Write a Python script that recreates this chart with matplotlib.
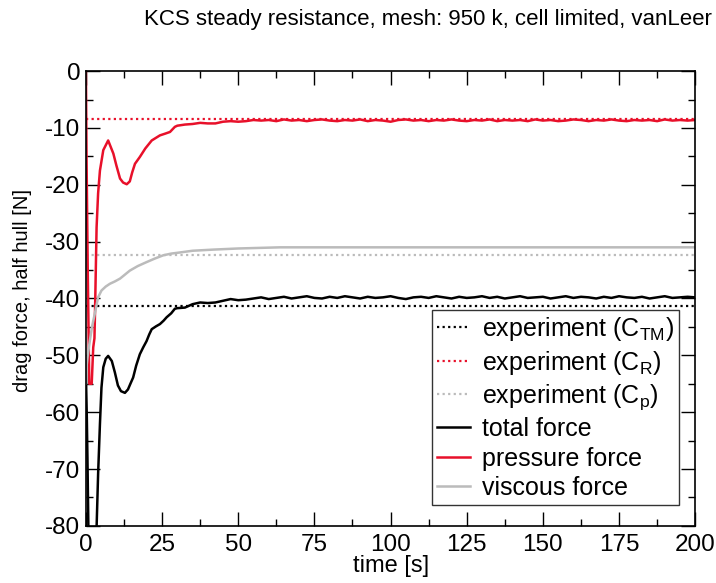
import numpy as np
import matplotlib
matplotlib.use("Agg")
import matplotlib.pyplot as plt
from matplotlib.ticker import MultipleLocator

plt.rcParams['font.family'] = ['Liberation Sans', 'DejaVu Sans']
plt.rcParams['mathtext.default'] = 'regular'
plt.rcParams['axes.unicode_minus'] = False

# experiment reference values [N]
exp_total = -41.3
exp_pressure = -8.4
exp_viscous = -32.3

# time grid for the long steady tail (30 s .. 200 s, every 2.5 s)
t_tail = list(np.arange(30.0, 200.01, 2.5))

# total force
t_total_start = [0, 0.1, 0.3, 0.5, 0.8, 1.2, 2.0, 2.8, 3.5, 4.0, 4.6, 5.1, 5.7, 6.5, 7.3,
                 8.5, 9.5, 10.5, 11.5, 12.8, 13.8, 14.6, 15.5, 16.5, 17.7, 18.8, 19.9,
                 20.8, 21.6, 23.0, 24.3, 25.5, 26.5, 28.0, 29.2]
f_total_start = [-52, -56, -61, -68, -80, -95, -110, -98, -80.3, -70.9, -62.1, -55.7, -52.1, -50.6, -50.1,
                 -51.0, -53.0, -55.3, -56.3, -56.6, -56.0, -55.0, -53.9, -51.8, -49.8, -48.6, -47.5,
                 -46.3, -45.4, -44.9, -44.5, -43.9, -43.3, -42.6, -41.8]
f_total_tail = [-41.7, -41.6, -41.0, -40.7, -40.8, -40.7, -40.4, -40.1, -40.3, -40.2, -40.0,
                -39.8, -40.1, -39.9, -39.7, -40.0, -39.8, -39.6, -39.9, -40.0, -39.7, -39.9,
                -39.6, -39.8, -40.0, -39.7, -39.9, -39.8, -39.6, -39.9, -40.1, -39.8, -39.7,
                -39.9, -39.6, -39.8, -40.0, -39.7, -39.9, -39.8, -39.6, -39.9, -39.7, -40.0,
                -39.8, -39.6, -39.9, -39.8, -39.7, -40.0, -39.8, -39.6, -39.9, -39.7, -39.8,
                -40.0, -39.7, -39.9, -39.6, -39.8, -39.9, -39.7, -40.0, -39.8, -39.6, -39.9,
                -39.8, -39.7, -39.8]

# pressure force
t_press_start = [0, 0.2, 0.6, 1.1, 1.9, 2.4, 2.8, 3.0, 3.5, 4.0, 4.6, 5.7, 7.3, 9.0, 10.0,
                 11.2, 12.2, 13.4, 14.4, 15.2, 16.1, 17.7, 19.5, 21.6, 24.3, 26.0, 27.6, 29.2]
f_press_start = [0, -15, -35, -55, -55, -48.6, -47.0, -42, -27.5, -21.5, -17.5, -13.9, -12.2, -14.5, -16.6,
                 -18.9, -19.6, -19.9, -19.4, -17.8, -16.3, -15.1, -13.6, -12.2, -11.3, -11.0, -10.7, -9.8]
f_press_tail = [-9.6, -9.4, -9.3, -9.1, -9.2, -9.2, -8.9, -8.8, -8.9, -8.8, -8.6,
                -8.7, -8.6, -8.8, -8.5, -8.7, -8.6, -8.8, -8.6, -8.5, -8.7, -8.8,
                -8.6, -8.7, -8.5, -8.8, -8.6, -8.7, -8.9, -8.6, -8.5, -8.7, -8.6,
                -8.8, -8.6, -8.7, -8.5, -8.7, -8.8, -8.6, -8.7, -8.5, -8.8, -8.6,
                -8.7, -8.6, -8.8, -8.5, -8.7, -8.6, -8.8, -8.7, -8.5, -8.6, -8.8,
                -8.6, -8.7, -8.5, -8.7, -8.8, -8.6, -8.7, -8.6, -8.8, -8.5, -8.7,
                -8.6, -8.7, -8.6]

# viscous force
t_visc = [0, 0.2, 0.6, 1.3, 2.0, 2.9, 4.0, 5.1, 6.5, 7.9, 9.5, 11.2, 12.8, 14.4, 17.0,
          19.9, 22.5, 25.4, 28.0, 30.9, 35.0, 41.8, 50.0, 63.7, 80, 100, 125, 150, 175, 200]
f_visc = [-55, -52, -50, -47.4, -45.0, -42.7, -39.8, -38.6, -37.9, -37.4, -37.0, -36.5, -35.8, -35.1, -34.3,
          -33.6, -33.0, -32.4, -32.1, -31.9, -31.6, -31.4, -31.2, -31.0, -31.0, -31.0, -31.0, -31.0, -31.0, -31.0]

red = '#e8102a'
grey = '#bbbbbb'

fig = plt.figure(figsize=(7.16, 5.83), dpi=100)
ax = fig.add_axes([0.120, 0.098, 0.851, 0.780])

ax.axhline(exp_total, color='black', ls=(0, (1, 1.5)), lw=1.6, label=r'experiment (C$_{TM}$)')
ax.axhline(exp_pressure, color=red, ls=(0, (1, 1.5)), lw=1.6, label=r'experiment (C$_{R}$)')
ax.axhline(exp_viscous, color=grey, ls=(0, (1, 1.5)), lw=1.6, label=r'experiment (C$_{p}$)')

ax.plot(t_total_start + t_tail, f_total_start + f_total_tail, color='black', lw=1.8, label='total force')
ax.plot(t_press_start + t_tail, f_press_start + f_press_tail, color=red, lw=1.8, label='pressure force')
ax.plot(t_visc, f_visc, color=grey, lw=1.8, label='viscous force')

ax.set_xlim(0, 200)
ax.set_ylim(-80, 0)
ax.xaxis.set_major_locator(MultipleLocator(25))
ax.xaxis.set_minor_locator(MultipleLocator(12.5))
ax.yaxis.set_major_locator(MultipleLocator(10))
ax.yaxis.set_minor_locator(MultipleLocator(5))
ax.tick_params(which='both', direction='in', top=True, right=True, labelsize=17.5, width=1)
ax.tick_params(which='major', length=10)
ax.tick_params(which='minor', length=5)
ax.tick_params(axis='y', which='major', pad=4)
ax.tick_params(axis='x', which='major', pad=6)
for s in ax.spines.values():
    s.set_linewidth(1.2)

ax.set_xlabel('time [s]', fontsize=17, labelpad=-1)
ax.set_ylabel('drag force, half hull [N]', fontsize=14.5)
ax.yaxis.set_label_coords(-0.088, 0.517)
fig.text(0.597, 0.966, 'KCS steady resistance, mesh: 950 k, cell limited, vanLeer',
         ha='center', va='center', fontsize=16)

leg = ax.legend(loc='upper left', bbox_to_anchor=(432 / 716, 1 - 310 / 583),
                bbox_transform=fig.transFigure, fontsize=18,
                frameon=True, fancybox=False, edgecolor='black', handlelength=1.3,
                handletextpad=0.5, labelspacing=0.22, borderpad=0.2, borderaxespad=0)
leg.get_frame().set_linewidth(1)

fig.savefig('out.png', dpi=100)
